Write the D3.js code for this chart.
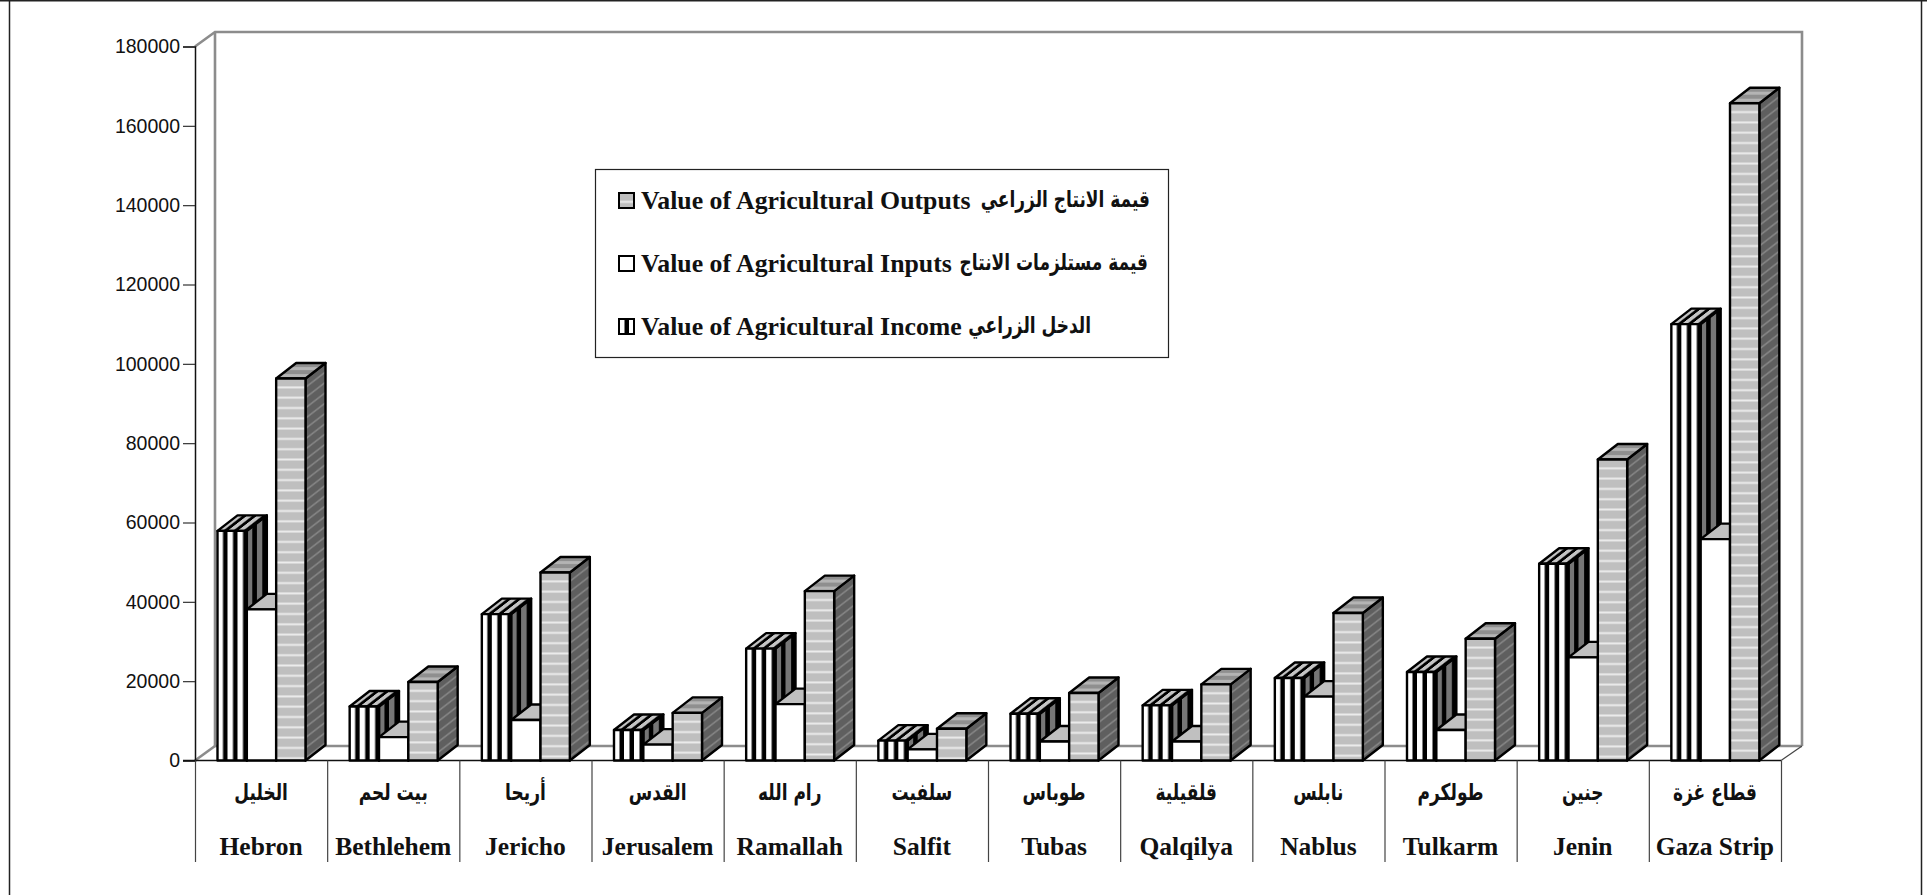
<!DOCTYPE html>
<html><head><meta charset="utf-8">
<script src="https://cdn.jsdelivr.net/npm/d3@7"></script>
<style>
html,body{margin:0;padding:0;background:#fff;overflow:hidden}
svg{display:block}
.f{vector-effect:non-scaling-stroke}
</style></head><body>
<svg id="c" width="1927" height="895"></svg>
<script>
const categoriesEn=["Hebron","Bethlehem","Jericho","Jerusalem","Ramallah","Salfit","Tubas","Qalqilya","Nablus","Tulkarm","Jenin","Gaza Strip"];
const categoriesAr=["الخليل","بيت لحم","أريحا","القدس","رام الله","سلفيت","طوباس","قلقيلية","نابلس","طولكرم","جنين","قطاع غزة"];
const income=[57900,13600,36900,7700,28200,5000,11800,13900,20800,22300,49600,110000];
const inputs=[38100,5900,10200,4000,14200,2800,4800,4800,16100,7700,26000,55800];
const outputs=[96300,19800,47400,12000,42700,8000,17000,19200,37200,30700,75900,165700];
const yTicks=[0,20000,40000,60000,80000,100000,120000,140000,160000,180000];
const legendEn=["Value of Agricultural Outputs","Value of Agricultural Inputs","Value of Agricultural Income"];
const legendAr=["قيمة الانتاج الزراعي","قيمة مستلزمات الانتاج","الدخل الزراعي"];

const svg=d3.select("#c");
const X0=195,X1=1781,Y0=760.5,Y1=46.5,DX=20,DY=14.5,BAR_DY=15.5;
const y=d3.scaleLinear().domain([0,180000]).range([Y0,Y1]);
const x=d3.scaleBand().domain(categoriesEn).range([X0,X1]).paddingInner(0).paddingOuter(0);
const xs=d3.scaleBand().domain(["income","inputs","outputs"]).range([22.5,110.5]);
const GREY="#8c8c8c";
const ARABIC="'DejaVu Sans',sans-serif", SERIF="'Liberation Serif',serif", SANS="'Liberation Sans',sans-serif";
const AR_SQUEEZE=0.74;

// patterns
const defs=svg.append("defs");
function pat(id,w,h,bg,draw){
  const p=defs.append("pattern").attr("id",id).attr("patternUnits","userSpaceOnUse").attr("width",w).attr("height",h);
  p.append("rect").attr("width",w).attr("height",h).attr("fill",bg);
  draw(p);
}
const vs=(c)=>p=>p.append("rect").attr("x",5.5).attr("width",4.5).attr("height",10).attr("fill",c);
const hs=(c,c2)=>p=>{
  p.append("rect").attr("y",7.5).attr("width",10).attr("height",1).attr("fill",c2);
  p.append("rect").attr("y",8.5).attr("width",10).attr("height",1.3).attr("fill",c);
  p.append("rect").attr("y",9.8).attr("width",10).attr("height",.5).attr("fill",c2);
};
pat("incF",10,10,"#fff",vs("#000"));
pat("incT",10,10,"#c4c4c4",vs("#000"));
pat("incS",10,10,"#767676",vs("#000"));
pat("outF",10,10.3,"#bfbfbf",hs("#f0f0f0","#d8d8d8"));
pat("outS",10,10.3,"#5f5f5f",hs("#8a8a8a","#747474"));
pat("outT",10,7,"#8f8f8f",p=>p.append("rect").attr("y",2.5).attr("width",10).attr("height",3).attr("fill","#b4b4b4"));

// outer frame
svg.append("g").attr("fill","none").attr("stroke","#222").call(g=>{
  g.append("line").attr("x1",9.5).attr("x2",9.5).attr("y1",0).attr("y2",895).attr("stroke-width",1.5);
  g.append("line").attr("x1",1921.5).attr("x2",1921.5).attr("y1",0).attr("y2",895).attr("stroke-width",1.5);
  g.append("line").attr("x1",0).attr("x2",1927).attr("y1",0.5).attr("y2",0.5).attr("stroke-width",2);
});

// walls
const wall=svg.append("g").attr("fill","none").attr("stroke",GREY).attr("stroke-width",2.6);
wall.append("path").attr("d",`M${X0},${Y1}L${X0+DX},${Y1-DY}H${X1+DX+1}V${Y0-DY}`);
wall.append("path").attr("d",`M${X0+DX},${Y1-DY}V${Y0-DY}H${X1+DX+1}`);
wall.append("path").attr("d",`M${X0},${Y0}L${X0+DX},${Y0-DY}`);
svg.append("line").attr("x1",X1).attr("y1",Y0).attr("x2",X1+DX+1).attr("y2",Y0-DY).attr("stroke","#444").attr("stroke-width",1.2);

// y axis
const ax=svg.append("g").attr("transform",`translate(${X0},0)`)
 .call(d3.axisLeft(y).tickValues(yTicks).tickSize(12).tickPadding(3).tickFormat(d3.format("d")));
ax.select(".domain").attr("stroke","#111").attr("stroke-width",1.5);
ax.selectAll(".tick line").attr("stroke","#333").attr("stroke-width",1.2);
ax.selectAll("text").attr("font-family",SANS).attr("font-size",19.5).attr("fill","#111");

// category axis
const cat=svg.append("g");
cat.append("line").attr("x1",X0-12).attr("x2",X1).attr("y1",Y0).attr("y2",Y0).attr("stroke","#111").attr("stroke-width",1.5);
cat.selectAll(".sep").data([...categoriesEn.map(d=>x(d)),X1]).join("line").attr("class","sep")
 .attr("x1",d=>d+.5).attr("x2",d=>d+.5).attr("y1",Y0).attr("y2",862).attr("stroke","#444").attr("stroke-width",1.2);
cat.selectAll(".en").data(categoriesEn).join("text").attr("class","en")
 .attr("x",d=>x(d)+x.bandwidth()/2).attr("y",855).attr("text-anchor","middle")
 .attr("font-family",SERIF).attr("font-weight","bold").attr("font-size",25.5).attr("fill","#111").text(d=>d);
cat.selectAll(".ar").data(categoriesAr).join("text").attr("class","ar")
 .attr("transform",(d,i)=>`translate(${x(categoriesEn[i])+x.bandwidth()/2},800) scale(${AR_SQUEEZE},1)`)
 .attr("text-anchor","middle")
 .attr("direction","rtl").attr("font-family",ARABIC).attr("font-weight","bold").attr("font-size",23).attr("fill","#111").text(d=>d);

// bars
const SK=`matrix(1,0,${-DX/BAR_DY},1,0,0)`, SS=`matrix(1,${-BAR_DY/DX},0,1,0,0)`;
const series=[
 {k:"income",v:income,f:"url(#incF)",t:"url(#incT)",s:"url(#incS)"},
 {k:"inputs",v:inputs,f:"#fff",t:"#c0c0c0",s:"#808080"},
 {k:"outputs",v:outputs,f:"url(#outF)",t:"url(#outT)",s:"url(#outS)"}];
const bars=svg.append("g");
categoriesEn.forEach((c,i)=>{
  series.forEach(s=>{
    const bx=x(c)+xs(s.k), w=xs.bandwidth(), top=y(s.v[i]), h=Y0-top;
    const g=bars.append("g").attr("stroke","#000").attr("stroke-width",2.4).attr("stroke-linejoin","round");
    g.append("rect").attr("class","f").attr("transform",`translate(${bx+w},${top}) ${SS}`).attr("width",DX).attr("height",h).attr("fill",s.s);
    g.append("rect").attr("class","f").attr("transform",`translate(${bx},${top}) ${SK}`).attr("y",-BAR_DY).attr("width",w).attr("height",BAR_DY).attr("fill",s.t);
    g.append("rect").attr("class","f").attr("transform",`translate(${bx},${top})`).attr("width",w).attr("height",h).attr("fill",s.f);
  });
});

// legend
const lg=svg.append("g");
lg.append("rect").attr("x",595.5).attr("y",169.5).attr("width",573).attr("height",188).attr("fill","#fff").attr("stroke","#222").attr("stroke-width",1.2);
const ly=d3.scalePoint().domain(d3.range(3)).range([201,327]);
const swatch=["url(#outF)","#fff","url(#incF)"];
const arEnd=[1150,1148,1091];
d3.range(3).forEach(i=>{
  lg.append("rect").attr("transform",`translate(619,${ly(i)-8})`).attr("width",15).attr("height",15).attr("fill",swatch[i]).attr("stroke","#000").attr("stroke-width",2);
  lg.append("text").attr("x",641).attr("y",ly(i)+8).attr("font-family",SERIF).attr("font-weight","bold").attr("font-size",25.8).attr("fill","#111").text(legendEn[i]);
  lg.append("text").attr("transform",`translate(${arEnd[i]},${ly(i)+6}) scale(${AR_SQUEEZE},1)`).attr("text-anchor","start").attr("direction","rtl").attr("font-family",ARABIC).attr("font-weight","bold").attr("font-size",23).attr("fill","#111").text(legendAr[i]);
});
</script></body></html>
